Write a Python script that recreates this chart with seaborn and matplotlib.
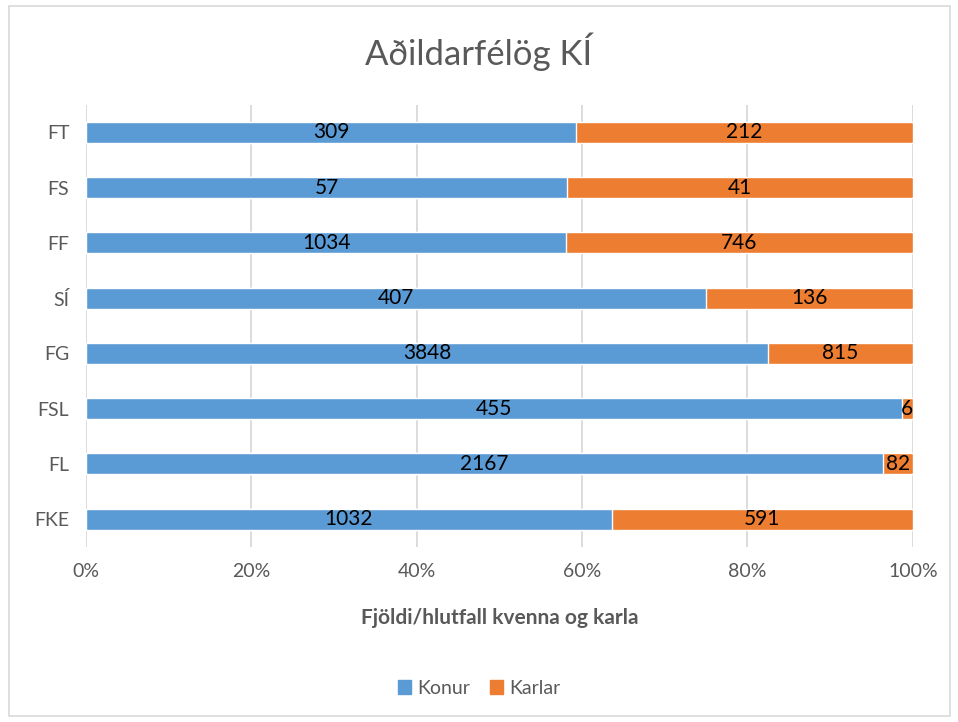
import numpy as np
import pandas as pd
import matplotlib
matplotlib.use("Agg")
import matplotlib.pyplot as plt
import seaborn as sns
from matplotlib.patches import Rectangle, Patch

felog = ["FT", "FS", "FF", "SÍ", "FG", "FSL", "FL", "FKE"]
konur = [309, 57, 1034, 407, 3848, 455, 2167, 1032]
karlar = [212, 41, 746, 136, 815, 6, 82, 591]
xticks = [0, 20, 40, 60, 80, 100]

BLAR = "#5B9BD5"
APPELSINA = "#ED7D31"
GRAR = "#595959"

df = pd.DataFrame({"felag": felog, "konur": konur, "karlar": karlar})
df["alls"] = df["konur"] + df["karlar"]
df["hlutf_konur"] = df["konur"] / df["alls"] * 100
df["hlutf_alls"] = 100.0

sns.set_style("white")
plt.rcParams["font.family"] = ["Lato", "DejaVu Sans"]

fig = plt.figure(figsize=(9.58, 7.22), dpi=100)
ax = fig.add_axes([0.0898, 0.2428, 0.863, 0.612])

# staflað: fyrst 100% appelsínugult, svo hlutfall kvenna ofan á
sns.barplot(data=df, y="felag", x="hlutf_alls", color=APPELSINA, orient="h",
            width=0.38, ax=ax, saturation=1, zorder=3)
sns.barplot(data=df, y="felag", x="hlutf_konur", color=BLAR, orient="h",
            width=0.38, ax=ax, saturation=1, zorder=3)

for i, row in df.iterrows():
    ax.text(row["hlutf_konur"] / 2, i, str(row["konur"]), ha="center", va="center",
            fontsize=15, color="black", zorder=5)
    ax.text((row["hlutf_konur"] + 100) / 2, i, str(row["karlar"]), ha="center",
            va="center", fontsize=15, color="black", zorder=5)

ax.set_xlim(0, 100)
ax.set_ylim(7.5, -0.5)
ax.set_xticks(xticks)
ax.set_xticklabels([f"{t}%" for t in xticks])
ax.tick_params(axis="both", length=0, labelsize=14, labelcolor=GRAR, pad=12)
ax.xaxis.grid(True, color="#D9D9D9", linewidth=1.3, zorder=0)
ax.set_axisbelow(True)
for s in ax.spines.values():
    s.set_visible(False)
ax.set_ylabel("")
ax.set_xlabel("Fjöldi/hlutfall kvenna og karla", fontsize=15, fontweight="bold",
              color=GRAR, labelpad=20)

fig.text(0.5, 0.928, "Aðildarfélög KÍ", ha="center", va="center", fontsize=25,
         color=GRAR)

handles = [Patch(color=BLAR, label="Konur"), Patch(color=APPELSINA, label="Karlar")]
fig.legend(handles=handles, loc="center", bbox_to_anchor=(0.5, 0.047), ncol=2,
           frameon=False, fontsize=14, labelcolor=GRAR, handlelength=0.7,
           handleheight=0.7, handletextpad=0.3, columnspacing=1.0)

fig.patches.append(Rectangle((0.0094, 0.008), 0.982, 0.983, transform=fig.transFigure,
                             fill=False, edgecolor="#D9D9D9", linewidth=1.2))

fig.savefig("out.png", dpi=100)
